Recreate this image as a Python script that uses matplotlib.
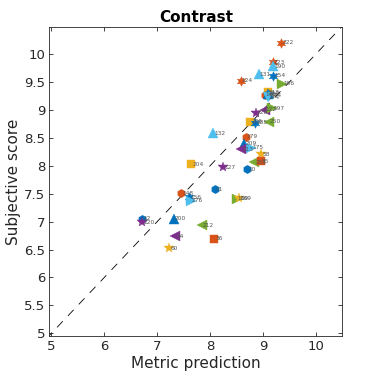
import matplotlib
matplotlib.use("Agg")
import matplotlib.pyplot as plt

# data
pred = [9.35, 9.19, 9.19, 8.92, 9.19, 8.58, 9.36, 9.09, 9.03, 9.09, 9.12, 9.09,
        8.86, 9.03, 9.18, 8.76, 8.85, 9.11, 8.06, 8.67, 8.65, 8.78, 8.59, 8.97,
        8.84, 8.96, 7.64, 8.25, 8.70, 8.09, 7.45, 7.60, 7.63, 8.50, 8.55,
        6.72, 6.72, 7.31, 7.84, 7.34, 8.08, 7.23]
score = [10.20, 9.85, 9.78, 9.64, 9.61, 9.52, 9.47, 9.32, 9.27, 9.29, 9.26, 9.23,
         8.95, 9.00, 9.03, 8.79, 8.77, 8.79, 8.58, 8.52, 8.39, 8.32, 8.30, 8.21,
         8.06, 8.08, 8.03, 7.97, 7.94, 7.58, 7.51, 7.44, 7.37, 7.41, 7.42,
         7.05, 6.99, 7.05, 6.93, 6.74, 6.69, 6.52]
labels = ["222", "223", "190", "131", "154", "124", "186", "212", "149", "159", "174", "174",
          "226", "122", "197", "205", "185", "250", "132", "179", "209", "175", "113", "58",
          "251", "95", "204", "127", "10", "11", "148", "156", "276", "189", "169",
          "12", "220", "200", "212", "64", "36", "60"]
markers = ["h6", "h6", "^", "^", "h6", "h6", ">", "s", "h", "^", "h6", "v",
           "*", "<", ">", "s", "h6", "<", "^", "h", "^", ">", "<", "*",
           "<", "s", "s", "*", "h", "h", "h", "h6", ">", ">", "*",
           "h", "*", "^", "<", "<", "s", "*"]
cidx = [1, 1, 5, 5, 0, 1, 4, 2, 1, 0, 0, 5,
        3, 3, 4, 2, 0, 4, 5, 1, 0, 5, 3, 2,
        4, 1, 2, 3, 0, 0, 1, 0, 5, 4, 2,
        0, 3, 0, 4, 3, 1, 2]
palette = ["#0072BD", "#D95319", "#EDB120", "#7E2F8E", "#77AC30", "#4DBEEE"]

plt.rcParams['font.family'] = ['DejaVu Sans']
fig = plt.figure(figsize=(3.78, 3.78), dpi=100)
ax = fig.add_axes([0.1305, 0.111, 0.775, 0.8168])

ax.plot([4.9, 10.6], [4.9, 10.6], linestyle=(0, (10, 9)), color='black', linewidth=0.6, zorder=1)

sizes = {"h6": 7, "*": 7.5, "s": 5.2, "h": 6, "^": 6.5, "v": 6.5, "<": 6.5, ">": 6.5}
for xi, yi, lab, m, c in zip(pred, score, labels, markers, cidx):
    mk = (6, 1, 0) if m == "h6" else m
    ax.plot(xi, yi, marker=mk, color=palette[c], markersize=sizes[m], linestyle='none',
            markeredgewidth=0.3, zorder=2)
    ax.text(xi + 0.02, yi, lab, fontsize=4.2, color='#555555', va='center', ha='left', zorder=3)

ax.set_xlim(4.96, 10.5)
ax.set_ylim(4.95, 10.48)
ax.set_xticks([5, 6, 7, 8, 9, 10])
ax.set_yticks([5, 5.5, 6, 6.5, 7, 7.5, 8, 8.5, 9, 9.5, 10])
ax.set_yticklabels(["5", "5.5", "6", "6.5", "7", "7.5", "8", "8.5", "9", "9.5", "10"])
ax.tick_params(direction='in', top=True, right=True, labelsize=9.5, colors='#262626',
               length=3, width=0.6, pad=3)
for s in ax.spines.values():
    s.set_linewidth(0.6)
    s.set_color('#262626')
ax.set_xlabel("Metric prediction", fontsize=11, color='#262626', labelpad=2)
ax.set_ylabel("Subjective score", fontsize=11, color='#262626', labelpad=2)
ax.set_title("Contrast", fontsize=11, fontweight='bold', pad=4)

fig.savefig("out.png", dpi=100)
